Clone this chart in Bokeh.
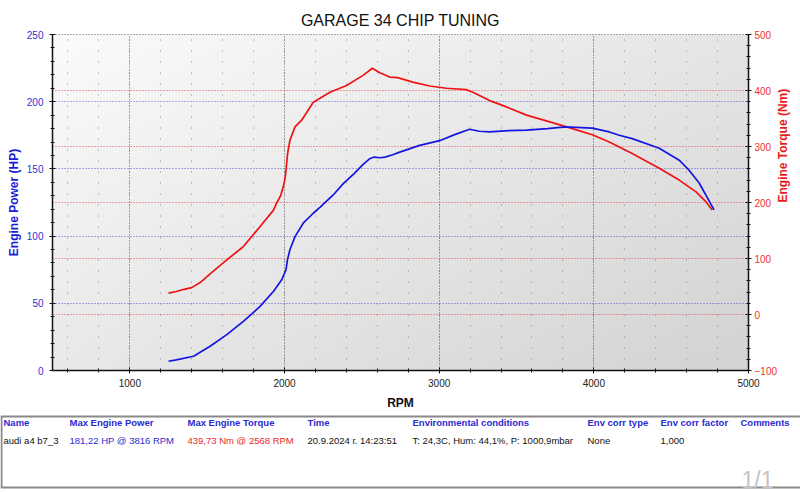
import numpy as np
from bokeh.plotting import figure
from bokeh.models import (Range1d, LinearAxis, SingleIntervalTicker, Grid)
from bokeh.core.properties import value
from bokeh.embed import file_html
from bokeh.resources import INLINE

# ---------------- data ----------------
rpm_power = [1250, 1300, 1412, 1519, 1627, 1734, 1842, 1928, 1982, 2010, 2019, 2035, 2068, 2121,
             2186, 2229, 2315, 2380, 2450, 2510, 2550, 2580, 2616, 2650, 2700, 2745, 2874, 3003,
             3100, 3197, 3260, 3326, 3450, 3565, 3700, 3816, 3990, 4100, 4165, 4248, 4423, 4552,
             4616, 4681, 4732, 4777]
power_hp = [6.9, 7.9, 10.6, 18, 26.7, 36.6, 47.7, 58.8, 67.5, 75, 82.3, 89.8, 99.6, 109.6,
            117, 121.4, 130.6, 139, 146.5, 153.5, 157.5, 158.8, 158.3, 158.8, 160.5, 162.5, 167.5, 171,
            175.5, 179.5, 178, 177.5, 178.5, 178.8, 180, 181.2, 180.3, 177.5, 175, 172.5, 165.4, 156.5,
            149, 139.5, 129, 119.5]

rpm_torque = [1250, 1300, 1350, 1400, 1455, 1519, 1627, 1733, 1842, 1928, 1948, 1975, 1992, 2003,
              2010, 2020, 2035, 2068, 2111, 2186, 2294, 2401, 2508, 2568, 2616, 2681, 2732, 2829,
              2939, 3046, 3175, 3218, 3261, 3326, 3410, 3565, 3732, 3861, 3990, 4100, 4248, 4423,
              4552, 4661, 4726, 4765]
torque_nm = [38.3, 41, 45, 48, 57, 72.7, 97.6, 121, 157, 186, 198.5, 212, 228, 242,
             258, 287.5, 311, 335, 347, 379, 397, 409, 427, 439.7, 431.8, 424, 423, 415,
             408, 404, 401.5, 397, 391, 382, 373.5, 356, 342.7, 332, 321, 308, 287.5, 261,
             240, 219, 201, 186.6]

title_text = "GARAGE 34 CHIP TUNING"
table_headers = ["Name", "Max Engine Power", "Max Engine Torque", "Time",
                 "Environmental conditions", "Env corr type", "Env corr factor", "Comments"]
table_row = ["audi a4 b7_3", "181,22 HP @ 3816 RPM", "439,73 Nm @ 2568 RPM",
             "20.9.2024 г. 14:23:51", "T: 24,3C, Hum: 44,1%, P: 1000,9mbar", "None", "1,000", ""]
row_colors = ["#111111", "#2a2ad0", "#e62a2a", "#111111", "#111111", "#111111", "#111111", "#111111"]
col_x = [3, 69, 187, 307, 412, 587, 660, 740]

FONT = "Liberation Sans"
BLUE = "#1515e0"
RED = "#ee1414"

# ---------------- chart ----------------
p = figure(width=800, height=412, x_range=Range1d(500, 5000), y_range=Range1d(0, 250),
           output_backend="svg", toolbar_location=None,
           min_border_left=52, min_border_right=50, min_border_top=34, min_border_bottom=41)
p.extra_y_ranges = {"nm": Range1d(-100, 500)}
p.background_fill_color = "#ffffff"
p.border_fill_color = "#ffffff"
p.outline_line_color = "#222222"
p.outline_line_dash = "1 2"

p.title.text = title_text
p.title.align = "center"
p.title.text_font = FONT
p.title.text_font_size = "16px"
p.title.text_font_style = "normal"
p.title.text_color = "#111111"
p.title.standoff = 12

# gradient background (decoration)
ny, nx = 60, 120
yy, xx = np.mgrid[0:1:ny * 1j, 0:1:nx * 1j]
t = 0.55 * xx + 0.45 * (1 - yy)
g = (251 - 40 * t).astype(np.uint8)
img = np.empty((ny, nx), dtype=np.uint32)
view = img.view(dtype=np.uint8).reshape((ny, nx, 4))
view[:, :, 0] = g
view[:, :, 1] = g
view[:, :, 2] = g
view[:, :, 3] = 255
p.image_rgba(image=[img], x=500, y=0, dw=4500, dh=250, level="image")

xticker = SingleIntervalTicker(interval=1000, num_minor_ticks=5)
lticker = SingleIntervalTicker(interval=50, num_minor_ticks=5)
rticker = SingleIntervalTicker(interval=100, num_minor_ticks=5)

xa = p.xaxis[0]
xa.ticker = xticker
xa.axis_label = "RPM"
ya = p.yaxis[0]
ya.ticker = lticker
ya.axis_label = "Engine Power (HP)"
ra = LinearAxis(y_range_name="nm", ticker=rticker, axis_label="Engine Torque (Nm)")
p.add_layout(ra, "right")

for ax, col in ((xa, "#222222"), (ya, "#3333cc"), (ra, "#ee3333")):
    ax.axis_line_color = "#111111"
    ax.axis_line_width = 1.5
    ax.major_tick_line_color = "#111111"
    ax.minor_tick_line_color = "#111111"
    ax.major_tick_in = 3
    ax.major_tick_out = 3
    ax.minor_tick_in = 2
    ax.minor_tick_out = 2
    ax.major_label_text_font = FONT
    ax.major_label_text_font_size = "10px"
    ax.major_label_text_color = col
    ax.axis_label_text_font = FONT
    ax.axis_label_text_font_size = "12px"
    ax.axis_label_text_font_style = "bold"

xa.axis_label_text_color = "#111111"
ya.axis_label_text_color = "#1a1ad8"
ra.axis_label_text_color = "#e81a1a"
xa.major_label_standoff = 5
xa.axis_label_standoff = 6
ya.major_label_standoff = 6
ya.axis_label_standoff = 3
ra.major_label_standoff = 3
ra.axis_label_standoff = 3
ra.axis_label_text_line_height = 0.9
try:
    ra.axis_label_orientation = np.pi / 2
except Exception:
    pass

p.xgrid.ticker = xticker
p.xgrid.grid_line_color = "#333333"
p.xgrid.grid_line_dash = "1 2"
p.xgrid.grid_line_alpha = 0.8
p.xgrid.minor_grid_line_color = "#777777"
p.xgrid.minor_grid_line_dash = "1 10"
p.xgrid.minor_grid_line_alpha = 0.8

p.ygrid.ticker = lticker
p.ygrid.grid_line_color = "#4a4ad8"
p.ygrid.grid_line_dash = "1 2"
p.ygrid.grid_line_alpha = 0.9

rgrid = Grid(dimension=1, ticker=rticker, y_range_name="nm",
             grid_line_color="#e84a4a", grid_line_dash="1 2", grid_line_alpha=1.0)
p.add_layout(rgrid, "center")

p.line(rpm_torque, torque_nm, y_range_name="nm", line_color=RED, line_width=1.7)
p.line(rpm_power, power_hp, line_color=BLUE, line_width=1.7)

# ---------------- table (separate root, full width) ----------------
tb = figure(width=800, height=81, x_range=Range1d(0, 800), y_range=Range1d(81, 0),
            output_backend="svg", toolbar_location=None, x_axis_type=None, y_axis_type=None,
            min_border=0)
tb.outline_line_color = None
tb.grid.visible = False
tb.background_fill_color = "#ffffff"
tb.border_fill_color = "#ffffff"

tb.segment(x0=[0, 0], y0=[4, 75], x1=[800, 800], y1=[4, 75], line_color="#8a8a8a", line_width=2)
tb.segment(x0=[1], y0=[4], x1=[1], y1=[75], line_color="#8a8a8a", line_width=2)

tb.text(x=col_x, y=[10] * len(col_x), text=table_headers, text_font=value(FONT),
        text_font_size="9.5px", text_font_style="bold", text_color="#2a2ad0",
        text_baseline="middle", text_align="left")
tb.text(x=col_x, y=[28] * len(col_x), text=table_row, text_font=value(FONT),
        text_font_size="9.5px", text_color=row_colors,
        text_baseline="middle", text_align="left")
tb.text(x=[741], y=[67], text=["1/1"], text_font=value(FONT), text_font_size="23px",
        text_color="#c4c4c4", text_baseline="middle", text_align="left")

open("out.html", "w").write(file_html([p, tb], INLINE))
